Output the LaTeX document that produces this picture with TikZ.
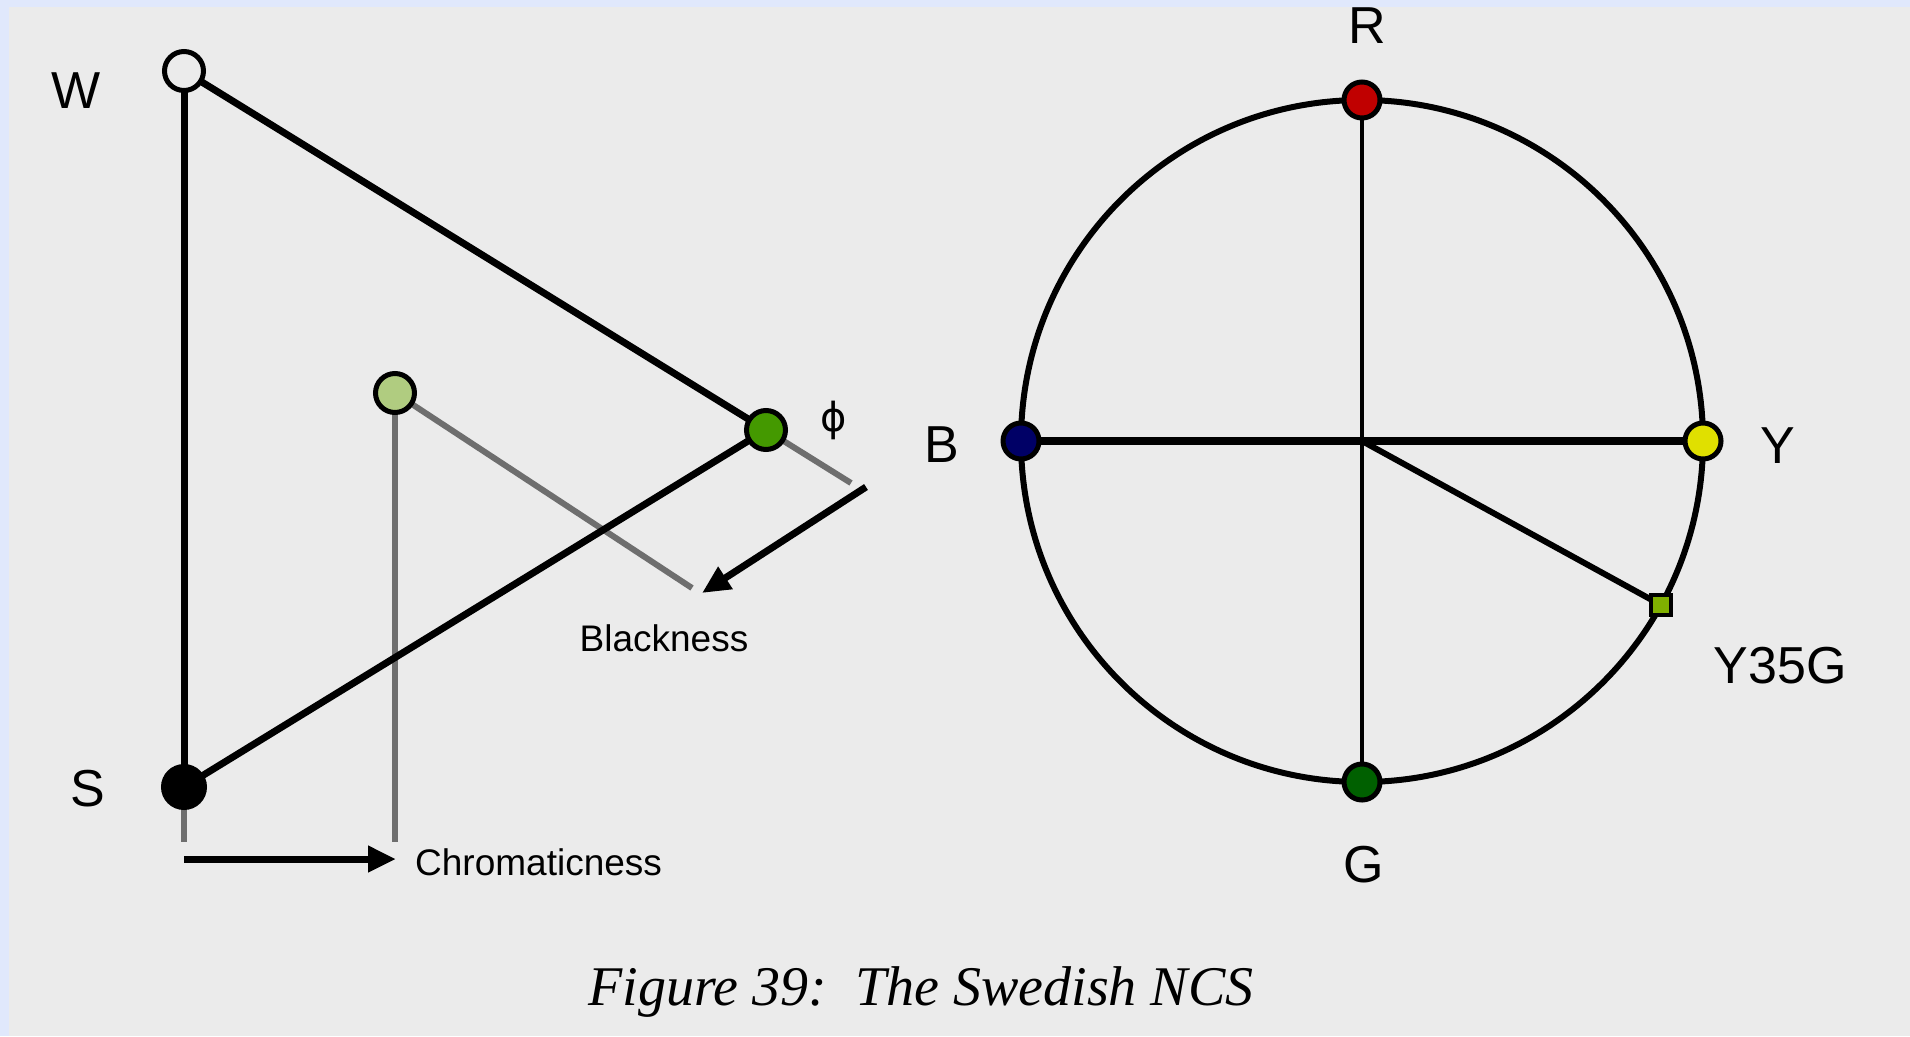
\documentclass[tikz,border=0pt]{standalone}
\usepackage{fontspec}
\setmainfont{Liberation Serif}
\setsansfont{Liberation Sans}
\newfontfamily\phifont{DejaVu Sans}
\usetikzlibrary{arrows.meta}
\definecolor{bgc}{HTML}{EBEBEB}
\definecolor{edgec}{HTML}{E0E8FC}
\definecolor{grayc}{HTML}{6E6E6E}
\definecolor{redc}{HTML}{C00000}
\definecolor{navyc}{HTML}{000066}
\definecolor{yelc}{HTML}{E0E000}
\definecolor{dgreenc}{HTML}{006000}
\definecolor{sqgreenc}{HTML}{80B000}
\definecolor{greenc}{HTML}{449900}
\definecolor{lgreenc}{HTML}{B0CC80}
\begin{document}
\begin{tikzpicture}[x=1pt,y=-1pt,
  dot/.style={circle,draw=black,line width=5pt,minimum size=39pt,inner sep=0pt},
  bigdot/.style={dot,minimum size=41pt},
  smalldot/.style={circle,draw=black,line width=5pt,minimum size=36pt,inner sep=0pt},
  biglbl/.style={font=\sffamily\fontsize{52}{60}\selectfont,anchor=base,inner sep=0pt},
  smlbl/.style={font=\sffamily\fontsize{37}{44}\selectfont,anchor=base,inner sep=0pt},
  blackline/.style={line width=7pt},
  grayline/.style={draw=grayc,line width=6pt},
  arr/.style={line width=7pt,-{Triangle[length=28pt,width=25pt]}}
]
\useasboundingbox (0,0) rectangle (1910,1036);
\fill[bgc] (0,0) rectangle (1910,1036);

% ---------- left: triangle ----------
\coordinate (Wc) at (184,71);
\coordinate (Sc) at (184,787);
\coordinate (Cc) at (766,430);
\coordinate (Lc) at (395,393);
\coordinate (Sbot) at (184,842);
\coordinate (Lbot) at (395,842);
\coordinate (Cend) at (851,483);
\coordinate (Lend) at (692,588);
\coordinate (Bstart) at (866,487);
\coordinate (Btip) at (702,593);
\coordinate (Chstart) at (184,859);
\coordinate (Chtip) at (396,859);

\draw[grayline] (Lc) -- (Lbot);
\draw[grayline] (Lc) -- (Lend);
\draw[grayline] (Cc) -- (Cend);
\draw[grayline] (Sc) -- (Sbot);
\draw[blackline] (Wc) -- (Sc);
\draw[blackline] (Wc) -- (Cc);
\draw[blackline] (Sc) -- (Cc);
\draw[arr] (Bstart) -- (Btip);
\draw[arr] (Chstart) -- (Chtip);

\node[dot,fill=bgc] (W) at (Wc) {};
\node[bigdot,fill=black] (S) at (Sc) {};
\node[dot,fill=greenc] (C) at (Cc) {};
\node[dot,fill=lgreenc] (L) at (Lc) {};

\node[biglbl] (Wl) at (76,108) {W};
\node[biglbl] (Sl) at (88,806) {S};
\node[font=\phifont\fontsize{40}{48}\selectfont,inner sep=0pt] (phi) at (834,420) {ϕ};
\node[smlbl] (blk) at (664,651) {Blackness};
\node[smlbl,anchor=base west] (chr) at (415,875) {Chromaticness};

% ---------- right: hue circle ----------
\coordinate (O) at (1362,441);
\draw[line width=6pt] (O) circle[radius=341pt];
\coordinate (Rc) at (1362,100);
\coordinate (Bc) at (1021,441);
\coordinate (Yc) at (1703,441);
\coordinate (Gc) at (1362,782);
\coordinate (Qc) at (1661,605);
\draw[line width=4pt] (Rc) -- (Gc);
\draw[line width=8pt] (Bc) -- (Yc);
\draw[line width=6pt] (O) -- (Qc);
\node[smalldot,fill=redc] (R) at (Rc) {};
\node[smalldot,fill=navyc] (B) at (Bc) {};
\node[smalldot,fill=yelc] (Y) at (Yc) {};
\node[smalldot,fill=dgreenc] (G) at (Gc) {};
\node[draw=black,fill=sqgreenc,line width=4pt,minimum size=20pt,inner sep=0pt] (Q) at (Qc) {};

\node[biglbl] (Rl) at (1367,43) {R};
\node[biglbl] (Bl) at (942,462) {B};
\node[biglbl] (Yl) at (1778,463) {Y};
\node[biglbl] (Gl) at (1364,882) {G};
\node[biglbl] (Ql) at (1780,683) {Y35G};

% caption
\node[font=\itshape\fontsize{56}{64}\selectfont,anchor=base,inner sep=0pt] (cap) at (921,1005) {Figure 39:\ \ The Swedish NCS};

% frame edges
\fill[edgec] (0,0) rectangle (1910,7);
\fill[edgec] (0,0) rectangle (9,1036);
\end{tikzpicture}
\end{document}
